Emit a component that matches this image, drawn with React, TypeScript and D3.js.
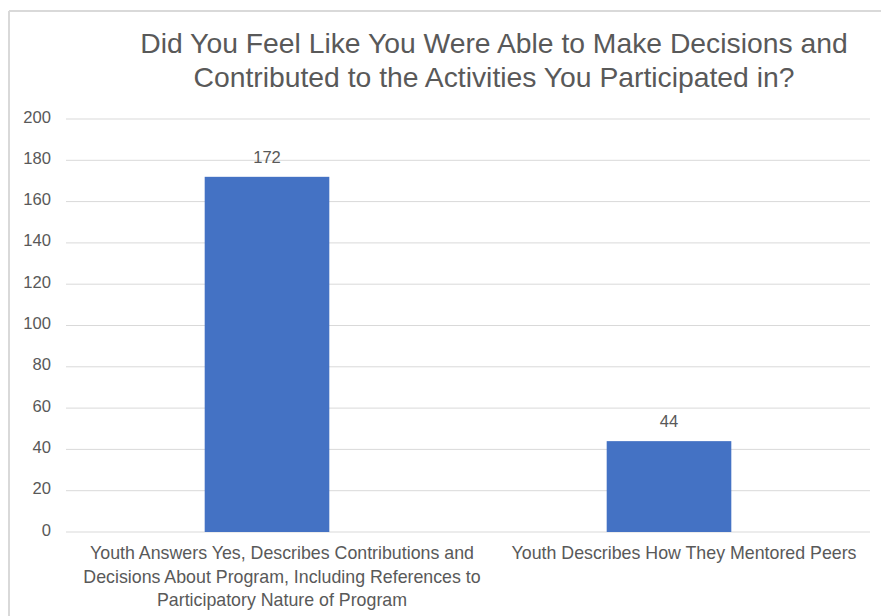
import React from "react";
import * as d3 from "d3";

const titleLines = [
  "Did You Feel Like You Were Able to Make Decisions and",
  "Contributed to the Activities You Participated in?",
];
const categories = [
  "Youth Answers Yes, Describes Contributions and Decisions About Program, Including References to Participatory Nature of Program",
  "Youth Describes How They Mentored Peers",
];
const categoryLines = [
  [
    "Youth Answers Yes, Describes Contributions and",
    "Decisions About Program, Including References to",
    "Participatory Nature of Program",
  ],
  ["Youth Describes How They Mentored Peers"],
];
const values = [172, 44];
const yTicks = [0, 20, 40, 60, 80, 100, 120, 140, 160, 180, 200];

const W = 881;
const H = 616;
const plot = { left: 66, right: 870, top: 119, bottom: 532 };
const FONT = "'Liberation Sans', Arial, Helvetica, sans-serif";
const TEXT = "#595959";
const GRID = "#d9d9d9";
const BAR = "#4472c4";
// category labels sit slightly right of the bar centres
const LABEL_SHIFT = 15;

export default function App() {
  const x = d3
    .scaleBand<string>()
    .domain(categories)
    .range([plot.left, plot.right])
    .paddingInner(0.69)
    .paddingOuter(0.345);
  const y = d3.scaleLinear().domain([0, 200]).range([plot.bottom, plot.top]);

  return (
    <div style={{ position: "absolute", left: 0, top: 0 }}>
      <svg width={W} height={H} style={{ display: "block", fontFamily: FONT }}>
        <rect x={0} y={0} width={W} height={H} fill="#fff" />
        {/* frame */}
        <line x1={9} x2={W} y1={11} y2={11} stroke={GRID} strokeWidth={2} />
        <line x1={9} x2={9} y1={11} y2={H} stroke={GRID} strokeWidth={2} />

        {/* title */}
        {titleLines.map((t, i) => (
          <text
            key={i}
            x={494}
            y={53 + i * 34}
            textAnchor="middle"
            fontSize={28.3}
            fill={TEXT}
          >
            {t}
          </text>
        ))}

        {/* gridlines and y labels */}
        {yTicks.map((v) => (
          <g key={v}>
            <line
              x1={plot.left}
              x2={plot.right}
              y1={y(v)}
              y2={y(v)}
              stroke={GRID}
              strokeWidth={1}
            />
            <text
              x={51}
              y={y(v) + 3.5}
              textAnchor="end"
              fontSize={16.6}
              fill={TEXT}
            >
              {v}
            </text>
          </g>
        ))}

        {/* bars */}
        {categories.map((c, i) => (
          <g key={c}>
            <rect
              x={x(c)}
              y={y(values[i])}
              width={x.bandwidth()}
              height={y(0) - y(values[i])}
              fill={BAR}
            />
            <text
              x={(x(c) ?? 0) + x.bandwidth() / 2}
              y={y(values[i]) - 14}
              textAnchor="middle"
              fontSize={16.6}
              fill={TEXT}
            >
              {values[i]}
            </text>
          </g>
        ))}

        {/* category labels */}
        {categories.map((c, i) =>
          categoryLines[i].map((line, j) => (
            <text
              key={c + j}
              x={(x(c) ?? 0) + x.bandwidth() / 2 + LABEL_SHIFT}
              y={559 + j * 23.5}
              textAnchor="middle"
              fontSize={17.8}
              fill={TEXT}
            >
              {line}
            </text>
          ))
        )}
      </svg>
    </div>
  );
}
